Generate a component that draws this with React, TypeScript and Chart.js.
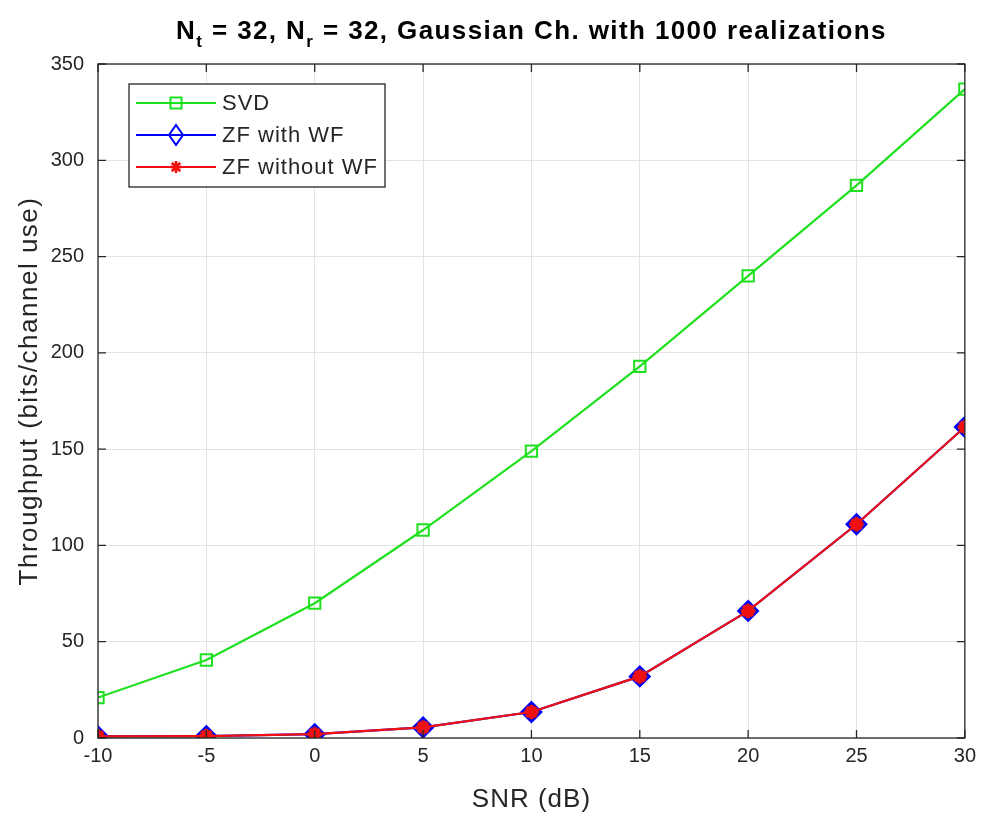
import React, { useEffect, useRef } from "react";
import { Chart, registerables } from "chart.js";

Chart.register(...registerables);

const snr = [-10, -5, 0, 5, 10, 15, 20, 25, 30];
const svd = [21, 40.5, 70, 108, 149, 193, 240, 287, 337];
const zfWithWF = [0.8, 1, 2, 5.5, 13.5, 32, 66, 111, 161.5];
const zfWithoutWF = [0.8, 1, 2, 5.5, 13.5, 32, 66, 111, 161.5];
const seriesNames = ["SVD", "ZF with WF", "ZF without WF"];
const xTickStep = 5;
const yTickStep = 50;

const FONT = "'Liberation Sans', Arial, Helvetica, sans-serif";
const TEXT = "#262626";
const GREEN = "#1fe01f";
const BLUE = "#0000ff";
const RED = "#f01010";

function drawMarker(ctx: CanvasRenderingContext2D, kind: string, x: number, y: number) {
  ctx.save();
  if (kind === "square") {
    ctx.strokeStyle = GREEN;
    ctx.lineWidth = 2;
    ctx.strokeRect(x - 5.5, y - 5.5, 11, 11);
  } else if (kind === "diamond") {
    ctx.strokeStyle = BLUE;
    ctx.lineWidth = 2;
    ctx.beginPath();
    ctx.moveTo(x, y - 10);
    ctx.lineTo(x + 7, y);
    ctx.lineTo(x, y + 10);
    ctx.lineTo(x - 7, y);
    ctx.closePath();
    ctx.stroke();
  } else {
    ctx.strokeStyle = RED;
    ctx.lineWidth = 2.5;
    ctx.beginPath();
    const r = 6;
    for (let i = 0; i < 4; i++) {
      const a = (i * Math.PI) / 4;
      ctx.moveTo(x - r * Math.cos(a), y - r * Math.sin(a));
      ctx.lineTo(x + r * Math.cos(a), y + r * Math.sin(a));
    }
    ctx.stroke();
  }
  ctx.restore();
}

function setSpacing(ctx: CanvasRenderingContext2D, v: string) {
  (ctx as any).letterSpacing = v;
}

const decorPlugin = {
  id: "decor",
  afterDraw(chart: any) {
    const ctx: CanvasRenderingContext2D = chart.ctx;
    const { left, right, top, bottom } = chart.chartArea;
    const xs = chart.scales.x;
    const ys = chart.scales.y;
    ctx.save();
    ctx.strokeStyle = TEXT;
    ctx.lineWidth = 1.3;
    ctx.strokeRect(left, top, right - left, bottom - top);
    const tl = 8;
    ctx.beginPath();
    xs.ticks.forEach((t: any) => {
      const px = xs.getPixelForValue(t.value);
      ctx.moveTo(px, bottom);
      ctx.lineTo(px, bottom - tl);
      ctx.moveTo(px, top);
      ctx.lineTo(px, top + tl);
    });
    ys.ticks.forEach((t: any) => {
      const py = ys.getPixelForValue(t.value);
      ctx.moveTo(left, py);
      ctx.lineTo(left + tl, py);
      ctx.moveTo(right, py);
      ctx.lineTo(right - tl, py);
    });
    ctx.stroke();

    const big = `bold 26px ${FONT}`;
    const small = `bold 17px ${FONT}`;
    const parts: [string, boolean][] = [
      ["N", false],
      ["t", true],
      [" = 32, N", false],
      ["r", true],
      [" = 32, Gaussian Ch. with 1000 realizations", false],
    ];
    setSpacing(ctx, "1.4px");
    let total = 0;
    parts.forEach(([s, sub]) => {
      ctx.font = sub ? small : big;
      total += ctx.measureText(s).width;
    });
    let cx = (left + right) / 2 - total / 2;
    const baseY = 39;
    ctx.fillStyle = "#000";
    ctx.textAlign = "left";
    ctx.textBaseline = "alphabetic";
    parts.forEach(([s, sub]) => {
      ctx.font = sub ? small : big;
      ctx.fillText(s, cx, sub ? baseY + 8 : baseY);
      cx += ctx.measureText(s).width;
    });

    ctx.fillStyle = TEXT;
    ctx.font = `26px ${FONT}`;
    setSpacing(ctx, "1px");
    ctx.textAlign = "center";
    ctx.textBaseline = "middle";
    ctx.fillText("SNR (dB)", (left + right) / 2, 800);
    ctx.save();
    ctx.translate(30, (top + bottom) / 2 - 10);
    ctx.rotate(-Math.PI / 2);
    setSpacing(ctx, "1.5px");
    ctx.fillText("Throughput (bits/channel use)", 0, 0);
    ctx.restore();

    const lx = 129, ly = 84, lw = 256, lh = 103;
    ctx.fillStyle = "#fff";
    ctx.fillRect(lx, ly, lw, lh);
    ctx.strokeStyle = TEXT;
    ctx.lineWidth = 1.3;
    ctx.strokeRect(lx, ly, lw, lh);
    const colors = [GREEN, BLUE, RED];
    const kinds = ["square", "diamond", "star"];
    seriesNames.forEach((name, i) => {
      const ry = 103 + i * 32;
      ctx.strokeStyle = colors[i];
      ctx.lineWidth = 2;
      ctx.beginPath();
      ctx.moveTo(136, ry);
      ctx.lineTo(216, ry);
      ctx.stroke();
      drawMarker(ctx, kinds[i], 176, ry);
      ctx.fillStyle = TEXT;
      ctx.font = `22px ${FONT}`;
      setSpacing(ctx, "1px");
      ctx.textAlign = "left";
      ctx.textBaseline = "middle";
      ctx.fillText(name, 222, ry + 1);
    });
    ctx.restore();
  },
};

export default function App() {
  const ref = useRef<HTMLCanvasElement | null>(null);
  useEffect(() => {
    if (!ref.current) return;
    const toXY = (ys: number[]) => snr.map((x, i) => ({ x, y: ys[i] }));
    const chart = new Chart(ref.current, {
      type: "line",
      data: {
        datasets: [
          {
            label: seriesNames[0],
            data: toXY(svd),
            borderColor: GREEN,
            borderWidth: 2.2,
            pointStyle: "rect",
            pointRadius: 8,
            pointBorderWidth: 2,
            pointBackgroundColor: "rgba(0,0,0,0)",
            pointBorderColor: GREEN,
            tension: 0,
            order: 2,
          },
          {
            label: seriesNames[1],
            data: toXY(zfWithWF),
            borderColor: BLUE,
            borderWidth: 2.2,
            pointStyle: "rectRot",
            pointRadius: 10,
            pointBorderWidth: 2,
            pointBackgroundColor: "#2a1aa0",
            pointBorderColor: BLUE,
            tension: 0,
            order: 1,
          },
          {
            label: seriesNames[2],
            data: toXY(zfWithoutWF),
            borderColor: RED,
            borderWidth: 2.2,
            pointStyle: "star",
            pointRadius: 7,
            pointBorderWidth: 4,
            pointBackgroundColor: RED,
            pointBorderColor: RED,
            tension: 0,
            order: 0,
          },
        ],
      },
      options: {
        animation: false,
        responsive: false,
        devicePixelRatio: 1,
        layout: { padding: { left: 0, top: 64, right: 14, bottom: 0 } },
        plugins: { legend: { display: false }, title: { display: false }, tooltip: { enabled: false } },
        scales: {
          x: {
            type: "linear",
            min: -10,
            max: 30,
            ticks: { stepSize: xTickStep, color: TEXT, font: { family: FONT, size: 20 }, padding: 6 },
            grid: { color: "#e3e3e3", drawTicks: false, lineWidth: 1 },
            border: { display: false },
            afterFit: (s: any) => {
              s.height = 84;
            },
          },
          y: {
            type: "linear",
            min: 0,
            max: 350,
            ticks: { stepSize: yTickStep, color: TEXT, font: { family: FONT, size: 20 }, padding: 14 },
            grid: { color: "#e3e3e3", drawTicks: false, lineWidth: 1 },
            border: { display: false },
            afterFit: (s: any) => {
              s.width = 98;
            },
          },
        },
      },
      plugins: [decorPlugin],
    });
    return () => chart.destroy();
  }, []);
  return (
    <div style={{ position: "fixed", left: 0, top: 0, width: 982, height: 822, background: "#fff" }}>
      <canvas ref={ref} width={982} height={822} />
    </div>
  );
}
